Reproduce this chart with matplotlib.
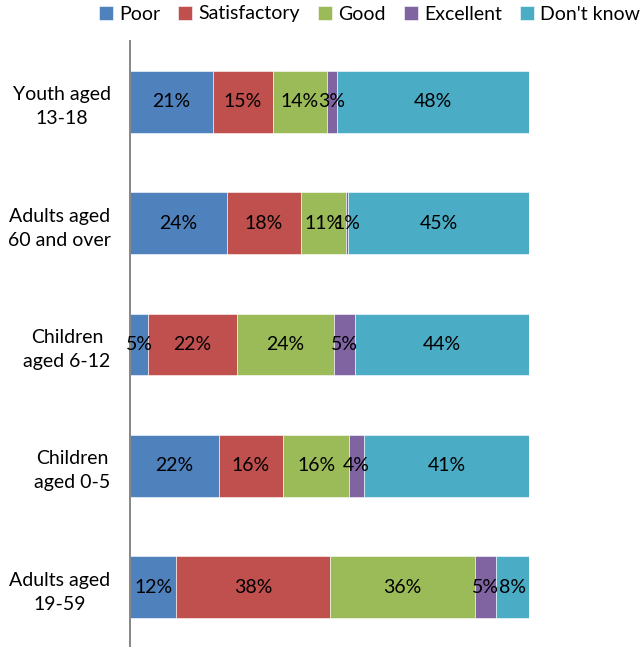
import numpy as np
import matplotlib
matplotlib.use("Agg")
import matplotlib.pyplot as plt

plt.rcParams['font.family'] = ['Lato', 'DejaVu Sans']

# age groups, listed top to bottom
groups = ["Youth aged\n13-18", "Adults aged\n60 and over", "Children\naged 6-12",
          "Children\naged 0-5", "Adults aged\n19-59"]
ratings = ["Poor", "Satisfactory", "Good", "Excellent", "Don't know"]

# percent of respondents per rating
poor = [20.7, 24.3, 4.6, 22.2, 11.6]
satisfactory = [15.0, 18.4, 22.1, 16.2, 38.4]
good = [13.6, 11.3, 24.3, 16.4, 36.4]
excellent = [2.6, 0.6, 5.3, 3.8, 5.2]
dont_know = [48.1, 45.4, 43.7, 41.4, 8.4]

colors = ["#4F81BD", "#C0504D", "#9BBB59", "#8064A2", "#4BACC6"]

fig = plt.figure(figsize=(6.43, 6.47), dpi=100)
ax = fig.add_axes([130 / 643, -1 / 647, 399.3 / 643, 607 / 647])

y = np.arange(len(groups))
left = np.zeros(len(groups))
for name, vals, c in zip(ratings, [poor, satisfactory, good, excellent, dont_know], colors):
    vals = np.array(vals)
    bars = ax.barh(y, vals, left=left, height=0.51, color=c, label=name,
                   edgecolor='white', linewidth=0.4)
    ax.bar_label(bars, labels=[f"{v:.0f}%" for v in vals], label_type='center',
                 fontsize=14, color='black')
    left += vals

ax.set_xlim(0, 100)
ax.set_ylim(len(groups) - 0.5, -0.5)
ax.set_yticks(y)
ax.set_yticklabels(groups, fontsize=14, multialignment='center', linespacing=1.5)
ax.tick_params(axis='y', length=0, pad=14)
ax.set_xticks([])
for s in ['top', 'right', 'bottom']:
    ax.spines[s].set_visible(False)
ax.spines['left'].set_color('#868686')
ax.spines['left'].set_linewidth(1.4)

fig.legend(loc='center right', bbox_to_anchor=(640 / 643, 1 - 14 / 647), ncol=5,
           frameon=False, fontsize=14, handlelength=0.72, handleheight=0.72,
           handletextpad=0.3, columnspacing=0.95, borderaxespad=0, borderpad=0)

fig.savefig("out.png", dpi=100)
